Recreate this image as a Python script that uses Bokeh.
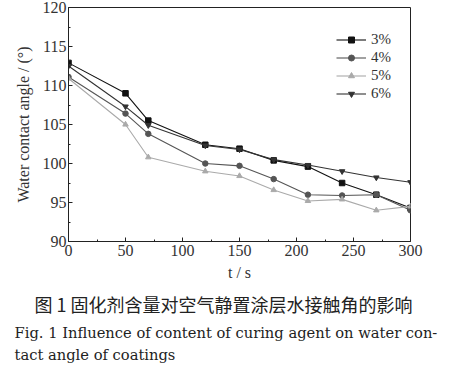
from bokeh.plotting import figure
from bokeh.models import Range1d, Legend, LegendItem, FixedTicker, Title
from bokeh.embed import file_html
from bokeh.resources import INLINE

t = [0, 50, 70, 120, 150, 180, 210, 240, 270, 300]
s3 = [112.9, 109.0, 105.5, 102.4, 101.9, 100.4, 99.6, 97.5, 96.0, 94.3]
s4 = [111.1, 106.4, 103.8, 100.0, 99.7, 98.0, 96.0, 95.9, 96.0, 94.0]
s5 = [110.9, 105.0, 100.8, 99.0, 98.4, 96.6, 95.2, 95.4, 94.0, 94.5]
s6 = [112.5, 107.3, 104.9, 102.3, 101.8, 100.5, 99.8, 99.0, 98.2, 97.6]
names = ["3%", "4%", "5%", "6%"]
x_ticks = [0, 50, 100, 150, 200, 250, 300]
y_ticks = [90, 95, 100, 105, 110, 115, 120]

SERIF = "Liberation Serif"
p = figure(width=443, height=366, output_backend="svg", toolbar_location=None,
           x_range=Range1d(0, 300), y_range=Range1d(90, 120),
           min_border_left=68, min_border_right=33, min_border_top=7, min_border_bottom=2)
p.grid.visible = False
p.outline_line_color = "#222222"
p.background_fill_color = "white"
p.border_fill_color = "white"

for ax in (p.xaxis[0], p.yaxis[0]):
    ax.major_tick_in = 4
    ax.major_tick_out = 0
    ax.minor_tick_in = 2
    ax.minor_tick_out = 0
    ax.axis_line_color = "#222222"
    ax.major_tick_line_color = "#222222"
    ax.minor_tick_line_color = "#222222"
    ax.major_label_text_font = SERIF
    ax.major_label_text_font_size = "16px"
    ax.major_label_text_color = "#333333"
    ax.axis_label_text_font = SERIF
    ax.axis_label_text_font_size = "16px"
    ax.axis_label_text_font_style = "normal"
    ax.axis_label_text_color = "#333333"
p.xaxis.ticker = FixedTicker(ticks=x_ticks, minor_ticks=[25, 75, 125, 175, 225, 275])
p.yaxis.ticker = FixedTicker(ticks=y_ticks, minor_ticks=[92.5, 97.5, 102.5, 107.5, 112.5, 117.5])
p.xaxis.axis_label = "t / s"
p.xaxis.axis_label_standoff = 5
p.xaxis.major_label_standoff = 3
p.yaxis.axis_label = "Water contact angle / (°)"
p.yaxis.axis_label_standoff = 8
p.yaxis.major_label_standoff = 2

series = [s3, s4, s5, s6]
colors = ["#111111", "#555555", "#aaaaaa", "#333333"]
markers = ["square", "circle", "triangle", "inverted_triangle"]
items = []
for ys, c, m, n in zip(series, colors, markers, names):
    r1 = p.line(t, ys, line_color=c, line_width=1.1)
    r2 = p.scatter(t, ys, marker=m, size=5.5, fill_color=c, line_color=c)
    items.append(LegendItem(label=n, renderers=[r1, r2]))

leg = Legend(items=items, location=(268, 139), border_line_color=None,
             background_fill_alpha=0, label_text_font=SERIF, label_text_font_size="15px",
             label_text_color="#333333", glyph_width=30, label_height=15, glyph_height=15,
             spacing=1, padding=4, margin=0, label_standoff=5)
p.add_layout(leg)

cap1 = Title(text="图 1  固化剂含量对空气静置涂层水接触角的影响", align="left",
             text_font="Noto Sans CJK SC", text_font_size="18px", text_color="#222222",
             text_font_style="normal", standoff=10, offset=-34)
cap2 = Title(text="Fig. 1 Influence of content of curing agent on water con-", align="left",
             text_font="DejaVu Serif", text_font_size="14.7px", text_color="#222222",
             text_font_style="normal", standoff=0, offset=-54)
cap3 = Title(text="tact angle of coatings", align="left",
             text_font="DejaVu Serif", text_font_size="14.7px", text_color="#222222",
             text_font_style="normal", standoff=7, offset=-54)
p.add_layout(cap1, "below")
p.add_layout(cap2, "below")
p.add_layout(cap3, "below")

open("out.html", "w").write(file_html(p, INLINE))
